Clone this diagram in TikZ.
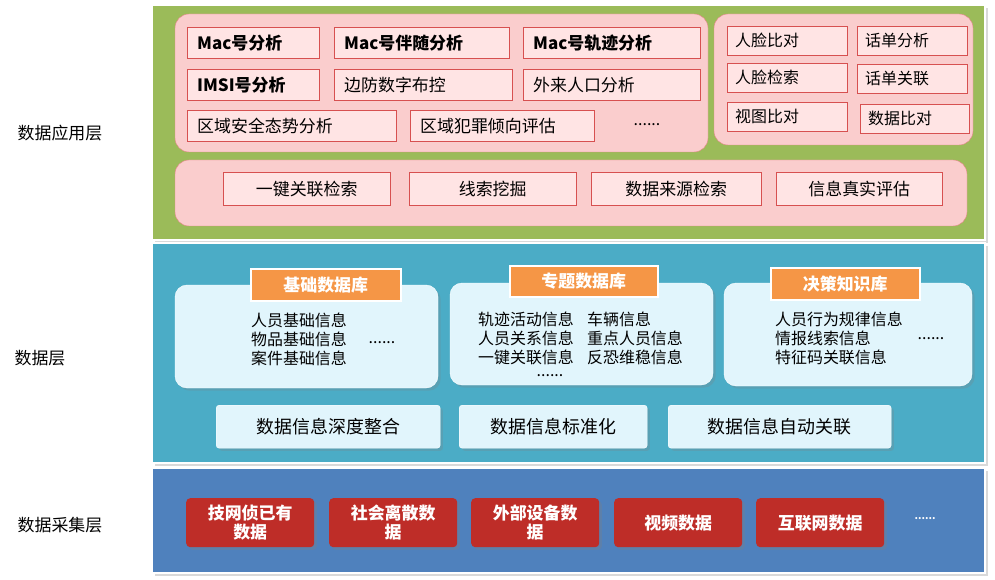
\documentclass[tikz,border=0pt]{standalone}
\usepackage{fontspec}
\setmainfont{Noto Sans CJK SC}
\usetikzlibrary{shadows}
\definecolor{appgreen}{RGB}{155,187,89}
\definecolor{datateal}{RGB}{75,172,198}
\definecolor{colblue}{RGB}{79,129,189}
\definecolor{pinkbg}{RGB}{250,205,205}
\definecolor{pinkbox}{RGB}{255,228,228}
\definecolor{boxred}{RGB}{215,80,80}
\definecolor{lightblue}{RGB}{225,245,252}
\definecolor{titleorange}{RGB}{245,150,70}
\definecolor{srcred}{RGB}{190,45,40}
\begin{document}
\begin{tikzpicture}[x=1bp, y=-1bp, font=\fontsize{16}{19}\selectfont]
\tikzstyle{layer_style} = [draw=white, line width=2bp, drop shadow={opacity=0.3}]
\tikzstyle{group_style} = [draw=boxred!70, fill=pinkbg, rounded corners=14bp, thin]
\tikzstyle{item_style} = [draw=boxred, fill=pinkbox, thin, inner sep=0pt, anchor=north west]
\tikzstyle{db_style} = [fill=lightblue, draw=white, rounded corners=12bp, drop shadow={opacity=0.25}]
\tikzstyle{title_style} = [fill=titleorange, draw=white, line width=1.5bp, text=white, font=\fontsize{17}{19}\selectfont\bfseries, inner sep=0pt, anchor=north west]
\tikzstyle{src_style} = [fill=srcred, rounded corners=4bp, text=white, align=center, inner sep=0pt, anchor=north west, font=\fontsize{17}{19}\selectfont\bfseries, drop shadow={opacity=0.3}]
\tikzstyle{label_style} = [font=\fontsize{17}{19}\selectfont]

\useasboundingbox (0,0) rectangle (995,580);

% layers
\fill[layer_style, fill=appgreen] (152,5) rectangle (985,240);
\fill[layer_style, fill=datateal] (152,243) rectangle (985,463);
\fill[layer_style, fill=colblue] (152,468) rectangle (985,573);
\node[label_style] (l1) at (60,133) {数据应用层};
\node[label_style] (l2) at (40,358) {数据层};
\node[label_style] (l3) at (60,525) {数据采集层};

% application layer
\draw[group_style] (175,14) rectangle (708,152);
\draw[group_style] (714,14) rectangle (973,145);
\draw[group_style] (175,160) rectangle (967,226);
\foreach \x/\w/\y/\t in {187/132/27/Mac号分析, 334/175/27/Mac号伴随分析, 523/177/27/Mac号轨迹分析,
  187/132/69/IMSI号分析}
  \node[item_style, minimum width=\w bp, minimum height=31bp, text width=\w bp-20bp, align=left, font=\fontsize{17}{19}\selectfont\bfseries] at (\x,\y) {\t};
\foreach \x/\w/\y/\t in {334/178/69/边防数字布控, 523/177/69/外来人口分析,
  187/209/110/区域安全态势分析, 410/184/110/区域犯罪倾向评估}
  \node[item_style, minimum width=\w bp, minimum height=31bp, text width=\w bp-20bp, align=left, font=\fontsize{17}{19}\selectfont] at (\x,\y) {\t};
\node (adots) at (647,125) {......};
\foreach \x/\w/\y/\t in {727/120/26/人脸比对, 857/110/26/话单分析, 727/120/63/人脸检索,
  857/110/64/话单关联, 727/120/102/视图比对, 860/109/104/数据比对}
  \node[item_style, minimum width=\w bp, minimum height=29bp, text width=\w bp-16bp, align=left] at (\x,\y) {\t};
\foreach \x/\w/\t in {223/167/一键关联检索, 409/167/线索挖掘, 591/170/数据来源检索, 776/166/信息真实评估}
  \node[item_style, minimum width=\w bp, minimum height=33bp, font=\fontsize{17}{19}\selectfont] at (\x,172) {\t};

% data layer
\fill[db_style] (175,285) rectangle (438,388);
\fill[db_style] (450,283) rectangle (713,385);
\fill[db_style] (724,283) rectangle (972,386);
\node[title_style, minimum width=150bp, minimum height=32bp] (t1) at (250,268) {基础数据库};
\node[title_style, minimum width=148bp, minimum height=31bp] (t2) at (509,265) {专题数据库};
\node[title_style, minimum width=149bp, minimum height=32bp] (t3) at (770,267) {决策知识库};
\node[align=left, anchor=north west, inner sep=0pt] (d1) at (251,313) {人员基础信息\\物品基础信息\\案件基础信息};
\node (d1dots) at (382,343) {......};
\node[align=left, anchor=north west, inner sep=0pt] (d2) at (478,312) {轨迹活动信息\\人员关系信息\\一键关联信息};
\node[align=left, anchor=north west, inner sep=0pt] (d3) at (587,312) {车辆信息\\重点人员信息\\反恐维稳信息};
\node[inner sep=0pt] (d2dots) at (550,376) {......};
\node[align=left, anchor=north west, inner sep=0pt] (d4) at (775,312) {人员行为规律信息\\情报线索信息\\特征码关联信息};
\node (d4dots) at (931,339) {......};
\foreach \x/\w/\t in {216/224/数据信息深度整合, 459/188/数据信息标准化, 668/223/数据信息自动关联}
  \node[db_style, rounded corners=3bp, anchor=north west, minimum width=\w bp, minimum height=43bp, font=\fontsize{18}{20}\selectfont] at (\x,405) {\t};

% collection layer
\foreach \x/\t in {186/技网侦已有\\数据, 329/社会离散数\\据, 471/外部设备数\\据, 614/视频数据, 756/互联网数据}
  \node[src_style, minimum width=128bp, minimum height=49bp] at (\x,498) {\t};
\node[text=white, font=\bfseries] (cdots) at (925,519) {......};
\end{tikzpicture}
\end{document}
